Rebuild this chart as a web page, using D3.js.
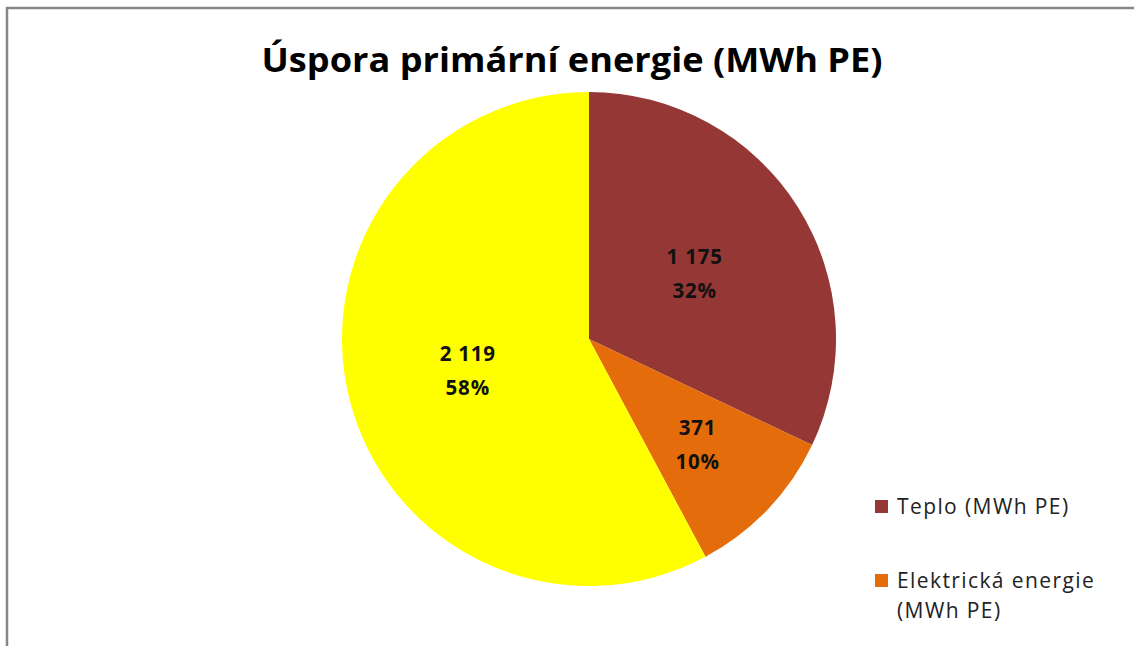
<!DOCTYPE html>
<head>
    <meta charset="utf-8">
    <script src="https://d3js.org/d3.v7.min.js"></script>
    <style>
        body { margin: 0; background: #fff; }
        text { font-family: "Open Sans", "Noto Sans", sans-serif; }
    </style>
</head>
<body>
    <svg></svg>
    <script>
        // values (MWh PE)
        var categories = ["Teplo (MWh PE)", "Elektrická energie (MWh PE)", "Ostatní"];
        var values = [1175, 371, 2119];
        var valueLabels = ["1 175", "371", "2 119"];
        var colors = ["#953735", "#E46C0A", "#FFFF00"];
        var legendItems = [
            { idx: 0, lines: ["Teplo (MWh PE)"] },
            { idx: 1, lines: ["Elektrická energie", "(MWh PE)"] }
        ];

        var width = 1134, height = 646;
        var cx = 589, cy = 339, radius = 247;

        var svg = d3.select("svg")
            .attr("width", width)
            .attr("height", height);

        // chart frame (only top and left edges show in the crop)
        svg.append("path")
            .attr("d", "M7,646 L7,8 L1134,8")
            .attr("fill", "none")
            .attr("stroke", "#878787")
            .attr("stroke-width", 2.5);

        // title
        svg.append("text")
            .attr("x", 572)
            .attr("y", 72)
            .attr("text-anchor", "middle")
            .attr("font-size", 34)
            .attr("font-weight", "bold")
            .attr("fill", "#000")
            .attr("textLength", 621)
            .attr("lengthAdjust", "spacingAndGlyphs")
            .text("Úspora primární energie (MWh PE)");

        var total = d3.sum(values);
        var data = values.map(function (v, i) {
            return { name: categories[i], value: v, label: valueLabels[i], color: colors[i] };
        });

        var pie = d3.pie().sort(null).value(function (d) { return d.value; });
        var arc = d3.arc().innerRadius(0).outerRadius(radius);

        // small slices get their label pushed further out (like excel's best fit)
        function labelPos(d) {
            var r = (d.endAngle - d.startAngle) < 1 ? 150 : 125;
            return d3.arc().innerRadius(r).outerRadius(r).centroid(d);
        }

        var g = svg.append("g")
            .attr("transform", "translate(" + cx + "," + cy + ")");

        var slices = g.selectAll("g.slice")
            .data(pie(data))
            .enter().append("g")
            .attr("class", "slice");

        slices.append("path")
            .attr("d", arc)
            .attr("fill", function (d) { return d.data.color; });

        var labels = slices.append("text")
            .attr("transform", function (d) { return "translate(" + labelPos(d) + ")"; })
            .attr("text-anchor", "middle")
            .attr("font-size", 20.5)
            .attr("font-weight", "bold")
            .attr("letter-spacing", 0.8)
            .attr("fill", "#111");

        labels.append("tspan")
            .attr("x", 0)
            .attr("y", -8)
            .text(function (d) { return d.data.label; });
        labels.append("tspan")
            .attr("x", 0)
            .attr("y", 26)
            .text(function (d) { return Math.round(d.data.value / total * 100) + "%"; });

        // legend
        var legend = svg.append("g")
            .attr("transform", "translate(875,0)");

        var legendY = [500, 574];
        legendItems.forEach(function (item, k) {
            legend.append("rect")
                .attr("x", 0)
                .attr("y", legendY[k])
                .attr("width", 13)
                .attr("height", 13)
                .attr("fill", colors[item.idx]);
            var t = legend.append("text")
                .attr("font-size", 21)
                .attr("letter-spacing", 1.4)
                .attr("fill", "#222");
            item.lines.forEach(function (line, j) {
                t.append("tspan")
                    .attr("x", 22)
                    .attr("y", legendY[k] + 14 + j * 30)
                    .text(line);
            });
        });
    </script>
</body>
